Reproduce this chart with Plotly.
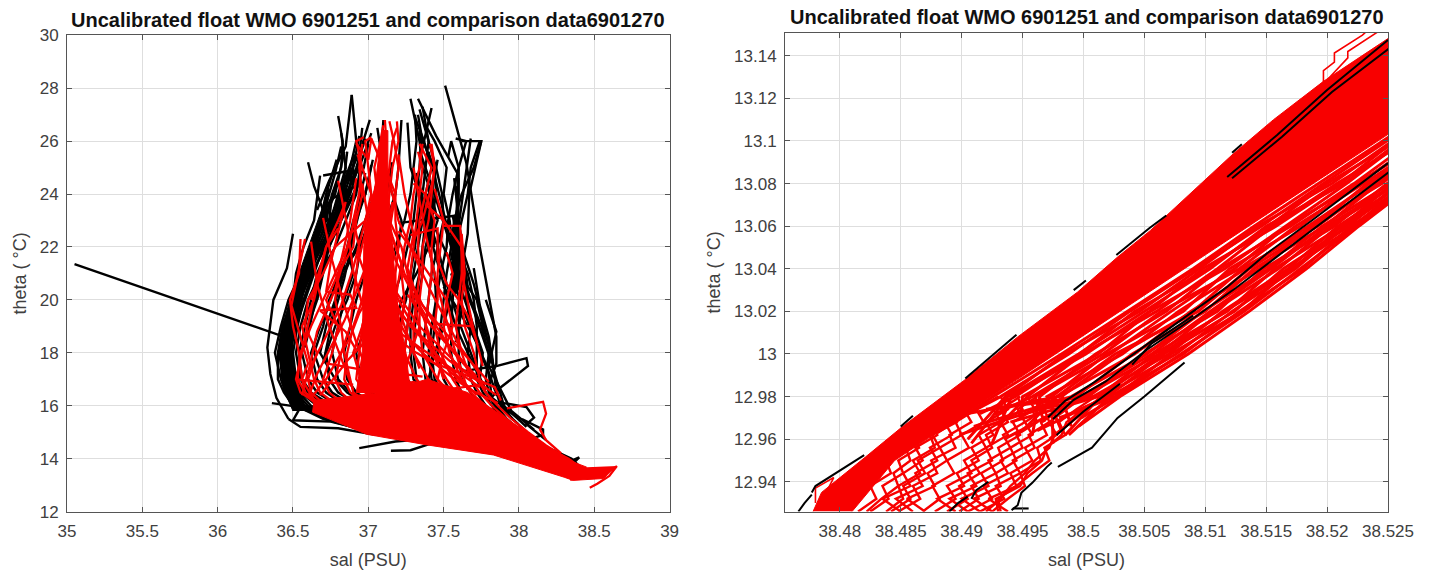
import plotly.graph_objects as go

TITLE = "Uncalibrated float WMO 6901251 and comparison data6901270"

# ---------- left panel: shared potential-temperature levels, one salinity list per profile ----------
levels_l = [13.5, 14, 14.5, 15, 15.5, 16, 16.5, 17, 18, 19, 20, 21, 22, 23, 24, 25, 26, 27, 28]

black_l = [
 [38.36,38.02,37.52,37.02,36.70,36.52,36.45,36.42,36.38,36.42,36.47,36.55,36.62,36.70,36.78,36.84],
 [38.38,38.05,37.60,37.10,36.72,36.55,36.47,36.44,36.42,36.45,36.50,36.56,36.65,36.74,36.82,36.88,36.92,36.89],
 [38.35,38.08,37.65,37.15,36.78,36.58,36.50,36.46,36.44,36.47,36.52,36.58,36.66,36.72,36.76,36.82,36.83,36.80],
 [38.40,38.03,37.58,37.20,36.80,36.60,36.52,36.47,36.45,36.46,36.51,36.60,36.68,36.78,36.86,36.92,36.98],
 [38.37,38.10,37.70,37.25,36.85,36.62,36.54,36.49,36.47,36.50,36.55,36.62,36.72,36.80,36.90,36.97,37.00],
 [38.42,38.12,37.75,37.30,36.90,36.66,36.55,36.50,36.48,36.52,36.58,36.64,36.70,36.75,36.80,36.85,36.82],
 [38.34,38.06,37.62,37.18,36.76,36.50,36.44,36.40,36.40,36.43,36.50,36.52,36.57,36.64,36.68],
 [38.39,38.14,37.78,37.35,37.00,36.72,36.60,36.55,36.52,36.55,36.60,36.68,36.78,36.85,36.92,36.95],
 [38.41,38.16,37.82,37.45,37.10,36.80,36.66,36.60,36.56,36.60,36.66,36.70,36.74,36.80,36.88,36.93,36.96],
 [38.36,38.18,37.85,37.50,37.15,36.85,36.72,36.66,36.62,36.68,36.75,36.80,36.88,36.92,36.98,37.03],
 [38.38,38.20,37.90,37.55,37.25,36.95,36.80,36.74,36.72,36.78,36.86,36.92,36.95,37.00,37.06,37.12],
 [38.43,38.22,37.92,37.60,37.30,37.05,36.92,36.86,36.84,36.88,36.92,36.98,37.05,37.12,37.18,37.20,37.22],
 [38.40,38.24,37.95,37.65,37.38,37.15,37.02,36.95,36.92,36.98,37.05,37.10,37.18,37.24,37.28,37.30,37.32,37.31],
 [38.35,38.19,37.88,37.62,37.42,37.25,37.12,37.05,37.05,37.10,37.16,37.22,37.26,37.30,37.32,37.34,37.35,37.34],
 [38.44,38.26,37.98,37.72,37.50,37.32,37.20,37.14,37.15,37.20,37.25,37.28,37.31,37.33,37.36,37.38,37.40,37.36],
 [38.37,38.21,37.96,37.75,37.56,37.40,37.30,37.25,37.24,37.26,37.28,37.30,37.33,37.36,37.38,37.42,37.37,37.31],
 [38.42,38.28,38.02,37.80,37.62,37.48,37.38,37.32,37.30,37.31,37.33,37.36,37.38,37.42,37.45,37.44,37.36,37.33],
 [38.39,38.25,38.00,37.82,37.66,37.54,37.44,37.38,37.36,37.38,37.40,37.42,37.46,37.50,37.49,37.45,37.40,37.34],
 [38.45,38.30,38.05,37.86,37.72,37.60,37.50,37.44,37.42,37.44,37.45,37.48,37.52,37.53,37.56,37.60,37.65,37.58],
 [38.36,38.27,38.03,37.88,37.75,37.64,37.55,37.50,37.46,37.48,37.50,37.52,37.55,37.57,37.62,37.70,37.75,37.62],
 [38.41,38.32,38.08,37.92,37.80,37.70,37.62,37.58,37.55,37.55,37.56,37.57,37.58,37.59,37.60,37.60,37.55,37.53],
 [38.38,38.29,38.06,37.94,37.82,37.74,37.68,37.62,37.60,37.60,37.61,37.62,37.62,37.60,37.58,37.57],
 [38.43,38.33,38.10,37.96,37.85,37.78,37.72,37.68,37.66,37.68,37.65,37.64,37.60,37.56],
 [38.40,38.31,38.12,37.98,37.88,37.82,37.76,37.72,37.72,37.72,37.70,37.66,37.58,37.62,37.66,37.68,37.74],
 [38.37,38.34,38.14,38.02,37.92,37.85,37.80,37.78,37.80,37.75,37.68,37.62,37.60,37.60,37.58],
 [38.44,38.35,38.16,38.05,37.96,37.88,37.85,37.84,37.82,37.76,37.72,37.60,37.54],
 [38.42,38.30,38.11,37.99,37.90,37.84,37.78,37.74,37.76,37.70,37.64,37.58,37.50,37.42,37.40],
 [38.39,38.28,38.04,37.85,37.70,37.58,37.48,37.42,37.40,37.42,37.45,37.44,37.40,37.38,37.42,37.46],
 [38.36,38.24,37.99,37.78,37.60,37.46,37.36,37.30,37.28,37.28,37.30,37.34,37.36,37.38,37.34,37.28,37.26],
 [38.41,38.22,37.94,37.70,37.48,37.28,37.16,37.08,37.02,37.04,37.08,37.12,37.20,37.22,37.16,37.10,37.06],
 [38.38,38.17,37.86,37.55,37.28,37.02,36.88,36.80,36.76,36.80,36.84,36.90,36.86,36.90,36.98,37.02],
 [38.35,38.13,37.80,37.42,37.05,36.76,36.62,36.56,36.54,36.58,36.62,36.66,36.74,36.82,36.94],
 [38.40,38.09,37.68,37.22,36.82,36.58,36.48,36.44,36.43,36.48,36.54,36.61,36.69,36.76,36.84,36.90,36.94],
 [38.37,38.04,37.56,37.08,36.74,36.54,36.46,36.43,36.41,36.44,36.49,36.56,36.63,36.68,36.72,36.79],
 [38.42,38.15,37.74,37.32,36.96,36.70,36.58,36.52,36.50,36.53,36.57,36.63,36.71,36.79,36.87,36.91],
 [38.39,38.11,37.72,37.28,36.92,36.68,36.56,36.48,36.46,36.49,36.53,36.59,36.67,36.75,36.85,36.94,37.02],
 [38.34,38.07,37.64,37.16,36.77,36.56,36.48,36.45,36.44,36.46,36.52,36.57,36.64,36.71,36.80],
 [38.43,38.21,37.91,37.58,37.28,37.00,36.86,36.78,36.68,36.72,36.78,36.84,36.92,36.98,37.04,37.08,37.10],
 [38.36,38.18,37.87,37.52,37.20,36.90,36.76,36.70,36.64,36.70,36.74,36.82,36.94,37.02,37.12,37.16],
 [38.41,38.26,38.01,37.77,37.57,37.42,37.32,37.26,37.20,37.18,37.22,37.32,37.40,37.46,37.42,37.36,37.34,37.28],
 [38.38,38.27,38.04,37.84,37.68,37.55,37.46,37.40,37.44,37.50,37.54,37.56,37.56,37.54,37.50,37.52,37.44,37.38],
]
# surface temperature of each profile above (replaces its last level)
black_top = [25.6,27.75,26.95,26.1,25.9,26.3,24.7,25.2,26.5,25.3,25.0,26.8,27.0,26.4,27.3,26.9,27.0,27.2,26.1,26.0,
             25.4,24.6,23.2,26.0,24.3,22.4,24.3,25.3,26.7,26.5,25.1,24.4,26.2,25.3,25.5,26.3,24.6,26.8,25.2,27.6,26.6]

# profile tops and other single profiles with their own temperature steps
black_x_sal = [
 [35.05, 36.42, 36.47],
 [37.51, 37.65, 37.74, 37.80, 37.85, 37.85, 37.80],
 [36.36, 36.55, 36.50, 36.75, 37.00],
 [37.62, 37.85, 38.05, 38.06, 37.88, 37.80],
 [36.94, 37.18, 37.40, 37.58],
 [37.15, 37.28, 37.46, 37.62],
 [38.10, 38.30, 38.40, 38.32, 38.20],
 [36.70, 36.90, 36.92, 36.75, 36.68],
 [37.20, 37.45, 37.60, 37.55],
 [36.89, 36.85, 36.74, 36.66],
 [37.33, 37.45, 37.59, 37.60, 37.66],
 [37.42, 37.35, 37.45, 37.55],
 [37.75, 37.67, 37.66, 37.60],
 [37.68, 37.64, 37.58, 37.56],
 [36.50, 36.46, 36.37, 36.33, 36.35, 36.39, 36.47],
 [37.78, 37.85, 37.80, 37.86, 37.95, 38.10],
 [36.60, 36.64, 36.70, 36.75, 36.80],
 [37.01, 36.95, 36.85, 36.80],
 [37.60, 37.58, 37.57, 37.60, 37.62, 37.58],
 [37.55, 37.62, 37.70, 37.78, 37.84, 37.92],
 [37.62, 37.70, 37.76, 37.82, 37.86, 37.94],
 [37.50, 37.60, 37.72, 37.80, 37.82, 38.00],
 [37.70, 37.74, 37.80, 37.83, 37.90, 38.05],
 [36.47, 36.55, 36.80, 37.05],
 [37.90, 38.05, 38.10, 38.05, 38.18],
 [38.02, 38.16, 38.16, 38.05, 38.22],
 [36.62, 36.66, 36.72, 36.78, 36.82],
 [36.60, 36.68, 36.74, 36.80, 36.84, 36.86],
 [36.66, 36.70, 36.76, 36.82, 36.90],
 [36.58, 36.65, 36.72, 36.76],
 [36.70, 36.76, 36.84, 36.90, 36.96],
 [36.74, 36.80, 36.86, 36.92, 36.98],
 [37.32, 37.38, 37.46, 37.52, 37.60, 37.72],
 [37.40, 37.46, 37.52, 37.60, 37.70, 37.82],
 [37.36, 37.42, 37.50, 37.58, 37.66, 37.78],
]
black_x_theta = [
 [21.35, 18.65, 18.20],
 [28.10, 25.20, 22.00, 20.20, 18.60, 17.60, 16.80],
 [16.10, 15.95, 15.45, 15.40, 15.05],
 [17.30, 17.50, 17.80, 17.50, 16.70, 16.20],
 [14.40, 14.65, 14.75, 14.60],
 [14.30, 14.32, 14.65, 14.50],
 [14.60, 13.80, 14.05, 13.60, 14.00],
 [24.70, 24.90, 24.30, 23.80, 23.00],
 [22.90, 23.10, 23.20, 21.50],
 [27.75, 25.80, 24.50, 23.40],
 [27.60, 26.20, 24.80, 23.00, 20.50],
 [27.25, 25.50, 23.80, 22.00],
 [26.00, 24.00, 22.50, 20.50],
 [26.10, 24.50, 22.00, 20.00],
 [22.50, 21.20, 20.00, 18.20, 17.20, 16.30, 15.50],
 [20.00, 18.80, 17.50, 16.80, 15.80, 15.10],
 [25.20, 24.30, 23.40, 22.80, 22.40],
 [26.80, 25.70, 24.40, 23.30],
 [24.60, 23.00, 22.00, 21.00, 19.60, 18.40],
 [21.00, 19.80, 18.60, 17.60, 16.60, 15.80],
 [22.00, 20.60, 19.20, 17.80, 16.40, 15.60],
 [20.50, 19.60, 18.40, 17.20, 16.30, 15.50],
 [21.20, 19.80, 18.60, 17.40, 16.00, 15.20],
 [15.50, 15.20, 15.15, 14.90],
 [16.10, 15.95, 15.55, 15.30, 14.70],
 [15.50, 15.10, 14.90, 14.70, 14.30],
 [21.00, 22.40, 23.60, 24.80, 25.80],
 [19.00, 20.80, 22.20, 23.40, 24.60, 25.60],
 [20.00, 21.40, 22.80, 24.20, 25.40],
 [18.20, 20.00, 22.00, 24.00],
 [17.60, 19.20, 20.80, 22.40, 23.80],
 [18.80, 20.40, 21.80, 23.20, 24.80],
 [24.80, 23.40, 22.00, 20.60, 19.20, 17.40],
 [25.60, 24.20, 22.80, 21.00, 19.60, 17.60],
 [23.60, 22.20, 20.60, 19.00, 18.00, 16.60],
]

# densest black parts, drawn as shapes
black_edge_sal   = [36.50, 36.44, 36.41, 36.44, 36.49, 36.54, 36.60, 36.66, 36.74, 36.72, 36.64, 36.58, 36.54, 36.50, 36.50, 36.55, 36.58]
black_edge_theta = [15.80, 16.60, 18.00, 19.20, 20.20, 21.00, 22.00, 23.00, 24.20, 23.30, 21.80, 20.50, 19.40, 18.60, 17.60, 16.80, 15.80]
black_col1_sal   = [37.56, 37.60, 37.61, 37.58, 37.55]
black_col1_theta = [22.80, 22.80, 20.50, 20.20, 20.50]
black_col2_sal   = [37.38, 37.43, 37.44, 37.39]
black_col2_theta = [24.00, 24.00, 22.00, 22.00]

red_l = [
 [38.36,38.10,37.70,37.30,36.95,36.66,36.58,36.56,36.54,36.50,36.48,36.54,36.55],
 [38.40,38.14,37.80,37.42,37.02,36.70,36.58,36.53,36.55,36.62,36.70,36.78,36.86,36.92],
 [38.38,38.12,37.75,37.35,37.00,36.72,36.62,36.60,36.66,36.58,36.60,36.70,36.78,36.98,37.05],
 [38.42,38.18,37.86,37.50,37.15,36.85,36.74,36.70,36.76,36.80,36.72,36.80,36.90,36.92,36.96,36.94,36.96],
 [38.37,38.16,37.84,37.52,37.20,36.92,36.82,36.78,36.82,36.88,36.90,36.92,36.94,36.90,36.94,36.95,36.93],
 [38.44,38.20,37.90,37.60,37.30,37.00,36.88,36.84,36.86,36.90,36.96,37.00,36.98,36.98,37.02,37.00,36.98,37.02],
 [38.40,38.22,37.95,37.68,37.40,37.12,36.98,36.92,36.94,36.96,37.00,37.02,37.04,37.06,37.06,37.04,37.08,37.10],
 [38.38,38.19,37.92,37.66,37.42,37.18,37.05,37.00,37.02,37.03,37.06,37.08,37.10,37.08,37.10,37.10,37.12,37.11],
 [38.43,38.25,38.00,37.76,37.52,37.30,37.16,37.10,37.08,37.10,37.12,37.12,37.14,37.14,37.12,37.14,37.16,37.19],
 [38.36,38.21,37.97,37.74,37.55,37.36,37.24,37.18,37.14,37.16,37.18,37.18,37.20,37.18,37.18,37.20,37.17,37.14],
 [38.41,38.27,38.04,37.82,37.62,37.44,37.32,37.26,37.20,37.22,37.24,37.22,37.24,37.28,37.30,37.34,37.36],
 [38.39,38.24,38.02,37.84,37.68,37.52,37.40,37.32,37.24,37.26,37.28,37.28,37.30,37.32,37.34,37.36,37.33],
 [38.44,38.29,38.08,37.90,37.74,37.60,37.48,37.40,37.30,37.30,37.32,37.34,37.33,37.34,37.38,37.42,37.34],
 [38.37,38.26,38.06,37.92,37.78,37.64,37.54,37.46,37.36,37.34,37.34,37.36,37.36,37.40,37.42,37.44,37.42],
 [38.42,38.31,38.12,37.98,37.84,37.70,37.58,37.52,37.42,37.38,37.40,37.42,37.42,37.44,37.38,37.30],
 [38.39,38.28,38.10,37.96,37.82,37.72,37.62,37.56,37.48,37.44,37.46,37.46,37.48,37.50,37.44],
 [38.45,38.33,38.16,38.04,37.90,37.78,37.68,37.62,37.54,37.50,37.52,37.56,37.52],
 [38.41,38.30,38.14,38.02,37.92,37.82,37.74,37.68,37.62,37.58,37.60,37.62,37.62,37.50,37.38],
 [38.38,38.32,38.18,38.06,37.95,37.86,37.78,37.74,37.70,37.64,37.62,37.64,37.62],
 [38.43,38.29,38.09,37.92,37.76,37.62,37.52,37.46,37.50,37.56,37.52,37.40,37.28,37.20],
 [38.36,38.23,38.00,37.80,37.60,37.42,37.30,37.22,37.28,37.34,37.30,37.26,37.22,37.14,37.16],
 [38.40,38.17,37.88,37.58,37.28,37.02,36.90,36.88,36.84,36.82,36.78,36.80,36.84,36.88,36.92],
 [38.37,38.15,37.82,37.46,37.10,36.80,36.68,36.64,36.60,36.56,36.64,36.68,36.72,36.80],
 [38.42,38.13,37.78,37.38,36.98,36.68,36.55,36.52,36.56,36.60,36.66],
 [38.39,38.20,37.94,37.62,37.36,37.10,37.00,36.95,36.90,36.96,37.00,37.06,37.04,36.98,37.04,37.08],
 [38.38,38.18,37.90,37.64,37.36,37.16,37.06,37.04,37.10,37.06,37.04,37.08,37.08,37.12,37.14,37.16,37.20,37.19],
 [38.41,38.24,37.98,37.72,37.48,37.24,37.12,37.08,37.12,37.16,37.14,37.12,37.10,37.04,37.02,36.96,36.92,36.97],
]
red_top = [22.3,23.3,23.9,25.9,25.5,26.15,26.6,26.8,26.5,26.75,25.9,25.6,25.9,25.9,24.4,24.2,21.8,23.6,22.5,
           22.6,23.7,24.6,22.7,20.6,25.0,26.75,26.15]

# single red profiles with their own temperature steps
red_x_sal = [
 [37.28, 37.46, 37.46, 37.52, 37.60, 37.66, 37.72],
 [37.92, 38.05, 38.16, 38.18, 38.14, 38.18, 38.28],
 [36.58, 36.49, 36.55, 36.60, 36.56, 36.62, 36.68],
 [36.62, 36.72, 36.80, 36.85, 36.75, 36.72],
 [36.72, 36.88, 36.92, 36.68, 36.85, 36.92],
 [36.92, 37.00, 37.02, 37.10],
 [37.41, 37.44, 37.42, 37.36, 37.28],
 [38.47, 38.52, 38.60, 38.65, 38.62, 38.48, 38.34],
 [37.12, 37.18, 37.30, 37.42, 37.58, 37.70, 37.78],
 [37.10, 37.22, 37.34, 37.48, 37.62, 37.78],
 [37.08, 37.16, 37.24, 37.36, 37.52, 37.66, 37.80],
 [37.16, 37.28, 37.38, 37.46, 37.54, 37.68],
 [37.06, 37.12, 37.20, 37.30, 37.40, 37.56, 37.72],
 [37.14, 37.20, 37.32, 37.40, 37.50, 37.60, 37.74],
 [37.30, 37.36, 37.44, 37.52, 37.60, 37.72],
 [37.22, 37.26, 37.34, 37.44, 37.55, 37.68, 37.86],
 [37.00, 36.92, 36.84, 36.74, 36.66, 36.60],
 [37.04, 36.94, 36.88, 36.80, 36.72, 36.62],
 [36.98, 36.90, 36.82, 36.70, 36.60, 36.56],
 [37.06, 37.00, 36.96, 36.86, 36.78, 36.68],
 [36.95, 36.88, 36.78, 36.66, 36.60],
 [37.02, 37.06, 37.02, 37.10, 37.06, 37.14, 37.20],
 [36.96, 37.00, 36.94, 37.02, 36.98, 37.08, 37.16],
 [37.10, 37.18, 37.14, 37.22, 37.18, 37.26, 37.34],
 [37.20, 37.24, 37.30, 37.26, 37.34, 37.42, 37.50],
 [37.30, 37.34, 37.38, 37.44, 37.50, 37.58, 37.66],
 [36.80, 36.86, 36.90, 36.98, 37.06, 37.14],
 [36.70, 36.76, 36.84, 36.92, 37.00, 37.10],
 [36.62, 36.66, 36.74, 36.82, 36.90],
 [37.22, 37.32, 37.44, 37.58, 37.72, 37.84, 37.88],
 [37.18, 37.30, 37.42, 37.54, 37.66, 37.76],
 [37.50, 37.61, 37.63, 37.70, 37.76],
 [37.43, 37.55, 37.70],
 [36.52, 36.72, 36.90],
 [37.00, 37.12, 37.30, 37.50, 37.75, 37.85],
 [36.72, 36.92, 37.10, 37.36],
 [37.26, 37.36, 37.48, 37.60, 37.72],
 [37.20, 37.34, 37.50, 37.64, 37.74],
]
red_x_theta = [
 [22.45, 22.70, 21.50, 20.60, 20.00, 19.40, 18.40],
 [15.90, 16.05, 16.15, 15.70, 15.10, 14.70, 14.20],
 [22.30, 19.80, 18.60, 17.60, 17.00, 16.40, 15.90],
 [20.00, 22.00, 23.00, 23.70, 21.40, 20.30],
 [20.30, 20.20, 19.70, 19.60, 18.80, 18.10],
 [25.90, 25.30, 26.10, 25.00],
 [25.90, 25.00, 24.30, 23.00, 22.00],
 [12.90, 13.05, 13.35, 13.72, 13.60, 13.40, 13.20],
 [23.00, 21.50, 20.20, 19.00, 18.00, 17.20, 16.50],
 [21.00, 20.00, 19.00, 18.20, 17.40, 16.80],
 [24.00, 22.40, 21.00, 19.80, 18.70, 17.80, 16.90],
 [20.00, 19.00, 18.40, 17.90, 17.30, 16.60],
 [22.50, 21.00, 20.00, 19.00, 18.20, 17.30, 16.40],
 [24.50, 23.00, 21.50, 20.50, 19.40, 18.30, 17.20],
 [20.50, 19.80, 19.10, 18.40, 17.80, 17.00],
 [19.00, 18.60, 18.10, 17.60, 17.10, 16.60, 16.10],
 [21.50, 20.30, 19.20, 18.10, 17.20, 16.30],
 [20.50, 19.50, 18.60, 17.80, 17.00, 16.30],
 [23.00, 21.20, 19.80, 18.40, 17.30, 16.40],
 [19.60, 19.00, 18.30, 17.70, 17.10, 16.40],
 [24.30, 22.30, 20.40, 18.80, 17.20],
 [24.00, 22.80, 21.60, 20.40, 19.20, 18.00, 16.80],
 [24.40, 23.00, 21.60, 20.30, 19.00, 17.70, 16.60],
 [25.20, 24.00, 22.60, 21.40, 20.00, 18.70, 17.40],
 [25.50, 24.00, 22.50, 21.20, 19.80, 18.40, 17.00],
 [25.00, 23.80, 22.50, 21.00, 19.60, 18.00, 16.60],
 [24.50, 22.80, 21.10, 19.40, 18.00, 16.80],
 [23.10, 21.50, 19.80, 18.40, 17.20, 16.20],
 [22.20, 20.60, 19.00, 17.80, 16.60],
 [18.40, 18.00, 17.60, 17.30, 17.00, 16.70, 16.20],
 [19.70, 18.90, 18.30, 17.70, 17.20, 16.80],
 [22.80, 22.80, 20.75, 18.85, 17.50],
 [19.10, 19.05, 19.00],
 [17.00, 16.90, 16.80],
 [16.90, 16.70, 16.90, 16.60, 16.80, 16.40],
 [17.60, 17.40, 17.30, 17.10],
 [20.20, 19.40, 18.60, 17.80, 17.10],
 [18.80, 18.20, 17.60, 17.10, 16.70],
]

# solid red masses where single lines can no longer be told apart
red_fan_sal   = [38.65, 38.56, 38.36, 38.30, 37.83, 37.39, 36.99, 36.63, 36.64, 37.08, 37.39, 37.66, 37.96, 38.16, 38.27, 38.45]
red_fan_theta = [13.72, 13.25, 13.18, 13.30, 14.14, 14.52, 14.92, 15.76, 16.20, 16.50, 17.00, 16.50, 15.35, 14.60, 14.07, 13.68]
red_col_sal   = [37.09, 37.13, 37.13, 37.16, 37.20, 37.25, 37.28, 36.92, 36.96, 36.97, 37.05, 37.08]
red_col_theta = [26.40, 26.40, 24.50, 22.00, 19.50, 18.00, 16.50, 16.50, 18.00, 22.00, 24.50, 26.00]

# ---------- right panel ----------
levels_r = [12.98, 13.00, 13.02, 13.04, 13.06, 13.08, 13.10, 13.13]
# cold end of each profile
red_r_start_sal = [38.4880,38.4892,38.4905,38.4915,38.4925,38.4930,38.4948,38.4958,38.4968,38.4975,38.4982,38.4990,
                   38.4886,38.4898,38.4910,38.4920,38.4935,38.4940,38.4952,38.4962,38.4972,38.4980,38.4988,38.4996,
                   38.4908,38.4928,38.4950,38.4965,38.4985,38.4998]
red_r_start_theta = [12.963,12.968,12.960,12.972,12.958,12.966,12.970,12.962,12.968,12.958,12.964,12.966,
                     12.970,12.962,12.966,12.974,12.960,12.968,12.972,12.964,12.960,12.970,12.962,12.966,
                     12.958,12.972,12.964,12.968,12.962,12.970]
red_r = [
 [38.4926,38.4982,38.5036,38.5090,38.5140,38.5193,38.5246,38.5325],
 [38.4932,38.4988,38.5038,38.5092,38.5146,38.5197,38.5249,38.5330],
 [38.4936,38.4985,38.5046,38.5095,38.5143,38.5204,38.5253,38.5328],
 [38.4944,38.4997,38.5042,38.5102,38.5152,38.5200,38.5258,38.5335],
 [38.4941,38.5002,38.5054,38.5098,38.5158,38.5211,38.5255,38.5332],
 [38.4954,38.4999,38.5060,38.5110,38.5155,38.5208,38.5266,38.5340],
 [38.4950,38.5012,38.5055,38.5116,38.5166,38.5216,38.5262,38.5345],
 [38.4964,38.5010,38.5068,38.5112,38.5170,38.5222,38.5271,38.5342],
 [38.4960,38.5022,38.5072,38.5124,38.5167,38.5226,38.5276,38.5350],
 [38.4974,38.5019,38.5082,38.5120,38.5178,38.5224,38.5281,38.5348],
 [38.4970,38.5032,38.5078,38.5133,38.5184,38.5236,38.5279,38.5355],
 [38.4982,38.5030,38.5090,38.5130,38.5190,38.5233,38.5290,38.5352],
 [38.4980,38.5042,38.5088,38.5144,38.5187,38.5245,38.5288,38.5362],
 [38.4994,38.5040,38.5100,38.5140,38.5198,38.5242,38.5296,38.5358],
 [38.4990,38.5052,38.5098,38.5152,38.5196,38.5252,38.5294,38.5368],
 [38.5004,38.5050,38.5110,38.5148,38.5206,38.5249,38.5302,38.5365],
 [38.5000,38.5062,38.5106,38.5160,38.5203,38.5258,38.5300,38.5372],
 [38.5012,38.5058,38.5118,38.5157,38.5212,38.5254,38.5308,38.5370],
 [38.5008,38.5070,38.5114,38.5168,38.5209,38.5262,38.5306,38.5376],
 [38.5020,38.5066,38.5124,38.5164,38.5218,38.5258,38.5312,38.5378],
 [38.5016,38.5076,38.5122,38.5174,38.5215,38.5266,38.5310,38.5382],
 [38.5026,38.5072,38.5130,38.5170,38.5222,38.5264,38.5316,38.5384],
 [38.5022,38.5082,38.5128,38.5180,38.5220,38.5270,38.5314,38.5386],
 [38.5030,38.5086,38.5136,38.5183,38.5226,38.5272,38.5320,38.5388],
 [38.4938,38.4996,38.5050,38.5104,38.5150,38.5214,38.5260,38.5336],
 [38.4958,38.5016,38.5064,38.5128,38.5174,38.5230,38.5284,38.5352],
 [38.4978,38.5026,38.5094,38.5136,38.5192,38.5240,38.5292,38.5360],
 [38.4998,38.5056,38.5104,38.5154,38.5200,38.5256,38.5304,38.5372],
 [38.5014,38.5064,38.5116,38.5172,38.5212,38.5262,38.5312,38.5380],
 [38.5028,38.5080,38.5132,38.5178,38.5224,38.5268,38.5318,38.5386],
]

# quantised zig-zag profiles near the cold end
zig_theta = [12.926, 12.932, 12.938, 12.944, 12.950, 12.956, 12.962, 12.968, 12.974, 12.980]
zig_sal = [
 [38.4815,38.4830,38.4825,38.4842,38.4838,38.4855,38.4850,38.4868,38.4878,38.4896],
 [38.4825,38.4840,38.4835,38.4852,38.4848,38.4865,38.4860,38.4878,38.4882,38.4900],
 [38.4850,38.4835,38.4858,38.4852,38.4868,38.4862,38.4880,38.4875,38.4892,38.4888],
 [38.4838,38.4852,38.4848,38.4866,38.4860,38.4878,38.4874,38.4890,38.4886,38.4904],
 [38.4848,38.4866,38.4860,38.4880,38.4875,38.4895,38.4890,38.4908,38.4902,38.4918],
 [38.4870,38.4855,38.4878,38.4872,38.4888,38.4882,38.4900,38.4895,38.4912,38.4908],
 [38.4878,38.4895,38.4888,38.4908,38.4902,38.4920,38.4914,38.4932,38.4926,38.4942],
 [38.4888,38.4905,38.4898,38.4915,38.4908,38.4925,38.4920,38.4938,38.4932,38.4948],
 [38.4905,38.4890,38.4912,38.4905,38.4925,38.4920,38.4938,38.4932,38.4950,38.4946],
 [38.4905,38.4925,38.4918,38.4938,38.4932,38.4950,38.4945,38.4962,38.4958,38.4974],
 [38.4925,38.4910,38.4932,38.4928,38.4945,38.4940,38.4958,38.4952,38.4968,38.4964],
 [38.4915,38.4935,38.4928,38.4948,38.4942,38.4960,38.4955,38.4972,38.4968,38.4984],
 [38.4938,38.4922,38.4945,38.4940,38.4958,38.4952,38.4970,38.4965,38.4980,38.4976],
 [38.4925,38.4938,38.4952,38.4948,38.4965,38.4962,38.4978,38.4972,38.4986,38.5000],
 [38.4932,38.4930,38.4945,38.4958,38.4972,38.4968,38.4985,38.4980,38.4994,38.5010],
 [38.4822,38.4834,38.4848,38.4844,38.4858,38.4854,38.4872,38.4866,38.4884,38.4896],
 [38.4842,38.4858,38.4852,38.4870,38.4864,38.4882,38.4876,38.4896,38.4890,38.4906],
 [38.4860,38.4846,38.4868,38.4862,38.4880,38.4874,38.4892,38.4886,38.4904,38.4898],
 [38.4868,38.4882,38.4876,38.4894,38.4888,38.4906,38.4900,38.4918,38.4912,38.4930],
 [38.4895,38.4880,38.4902,38.4896,38.4914,38.4908,38.4926,38.4920,38.4938,38.4932],
 [38.4898,38.4914,38.4908,38.4928,38.4922,38.4940,38.4934,38.4952,38.4946,38.4962],
 [38.4915,38.4900,38.4922,38.4916,38.4934,38.4930,38.4948,38.4942,38.4960,38.4954],
 [38.4930,38.4928,38.4948,38.4954,38.4966,38.4970,38.4982,38.4986,38.5000,38.5016],
 [38.4920,38.4932,38.4940,38.4952,38.4960,38.4972,38.4976,38.4990,38.4996,38.5020],
]
red_top_sal = [
 [38.5197, 38.5197, 38.5206, 38.5206, 38.5229, 38.5245],
 [38.5200, 38.5217, 38.5217, 38.5241, 38.5250],
 [38.4780, 38.4780, 38.4795, 38.4788],
]
red_top_theta = [
 [13.125, 13.133, 13.137, 13.1413, 13.1497, 13.158],
 [13.1286, 13.139, 13.142, 13.151, 13.155],
 [12.930, 12.937, 12.942, 12.934],
]

red_core_sal   = [38.4778, 38.4785, 38.4821, 38.4851, 38.4903, 38.4946, 38.4995, 38.5028, 38.5055, 38.5093, 38.5123, 38.5156, 38.5197, 38.5255, 38.5255, 38.5162, 38.5083, 38.5004, 38.4924, 38.4845, 38.4810]
red_core_theta = [12.926, 12.935, 12.9516, 12.9657, 12.988, 13.008, 13.029, 13.0455, 13.058, 13.078, 13.094, 13.110, 13.128, 13.150, 13.105, 13.070, 13.040, 13.010, 12.980, 12.950, 12.926]

black_front_sal = [
 [38.4971, 38.4985, 38.5009, 38.5045, 38.5083, 38.5118, 38.5151, 38.5188, 38.5250],
 [38.4975, 38.4992, 38.5018, 38.5052, 38.5092, 38.5125, 38.5160, 38.5198, 38.5252],
 [38.4941, 38.4946, 38.4949, 38.4958, 38.4970, 38.4974],
 [38.4979, 38.5007, 38.5028, 38.5050, 38.5083],
 [38.5118, 38.5159, 38.5200, 38.5250],
 [38.5122, 38.5163, 38.5204, 38.5252],
 [38.4766, 38.4771, 38.4777],
 [38.4777, 38.4780, 38.4820],
 [38.4850, 38.4860],
 [38.4903, 38.4925, 38.4945],
 [38.4992, 38.5002],
 [38.5027, 38.5054, 38.5068],
 [38.5122, 38.5130],
 [38.4890, 38.4897, 38.4905],
 [38.4908, 38.4912, 38.4922],
 [38.4942, 38.4955],
 [38.5040, 38.5056, 38.5090],
 [38.4978, 38.5000, 38.5030],
]
black_front_theta = [
 [12.9703, 12.978, 12.9868, 13.0017, 13.0173, 13.0315, 13.0474, 13.0629, 13.0896],
 [12.9695, 12.9785, 12.9870, 13.0020, 13.0175, 13.0310, 13.0462, 13.0625, 13.0860],
 [12.9267, 12.929, 12.9348, 12.9395, 12.947, 12.949],
 [12.947, 12.956, 12.970, 12.980, 12.996],
 [13.0831, 13.1028, 13.1239, 13.1474],
 [13.0825, 13.1020, 13.1230, 13.1440],
 [12.926, 12.930, 12.934],
 [12.935, 12.938, 12.9525],
 [12.966, 12.971],
 [12.9885, 12.9990, 13.0090],
 [13.0300, 13.0345],
 [13.0465, 13.0590, 13.0650],
 [13.0945, 13.0985],
 [12.926, 12.930, 12.933],
 [12.932, 12.936, 12.940],
 [12.9275, 12.9275],
 [12.9950, 13.0050, 13.0180],
 [12.9620, 12.9730, 12.9860],
]

# ---------- axes ----------
xticks_l = [35, 35.5, 36, 36.5, 37, 37.5, 38, 38.5, 39]
xlabels_l = ["35", "35.5", "36", "36.5", "37", "37.5", "38", "38.5", "39"]
yticks_l = [12, 14, 16, 18, 20, 22, 24, 26, 28, 30]
ylabels_l = ["12", "14", "16", "18", "20", "22", "24", "26", "28", "30"]
xticks_r = [38.48, 38.485, 38.49, 38.495, 38.5, 38.505, 38.51, 38.515, 38.52, 38.525]
xlabels_r = ["38.48", "38.485", "38.49", "38.495", "38.5", "38.505", "38.51", "38.515", "38.52", "38.525"]
yticks_r = [12.94, 12.96, 12.98, 13, 13.02, 13.04, 13.06, 13.08, 13.1, 13.12, 13.14]
ylabels_r = ["12.94", "12.96", "12.98", "13", "13.02", "13.04", "13.06", "13.08", "13.1", "13.12", "13.14"]

W, H = 1429, 571
BLACK, RED = "#000000", "#f80000"
TXT = "#404040"
FONT = "Liberation Sans"

fig = go.Figure()

def line(x, y, color, width, ax):
    fig.add_trace(go.Scatter(x=x, y=y, mode="lines", line=dict(color=color, width=width),
                             xaxis="x" + ax, yaxis="y" + ax, hoverinfo="skip", showlegend=False))

def shape(x, y, color, ax):
    fig.add_trace(go.Scatter(x=x, y=y, mode="lines", fill="toself", fillcolor=color, line=dict(color=color, width=1),
                             xaxis="x" + ax, yaxis="y" + ax, hoverinfo="skip", showlegend=False))

# left panel, black first and red on top
shape(black_edge_sal, black_edge_theta, BLACK, "")
shape(black_col1_sal, black_col1_theta, BLACK, "")
shape(black_col2_sal, black_col2_theta, BLACK, "")
for s, top in zip(black_l, black_top):
    line(s, levels_l[:len(s) - 1] + [top], BLACK, 2.4, "")
for x, y in zip(black_x_sal, black_x_theta):
    line(x, y, BLACK, 2.4, "")
shape(red_fan_sal, red_fan_theta, RED, "")
shape(red_col_sal, red_col_theta, RED, "")
for s, top in zip(red_l, red_top):
    line(s, levels_l[:len(s) - 1] + [top], RED, 2.3, "")
for x, y in zip(red_x_sal, red_x_theta):
    line(x, y, RED, 2.3, "")

# right panel
for s in zig_sal:
    line(s, zig_theta, RED, 2.4, "2")
shape(red_core_sal, red_core_theta, RED, "2")
for a, b, s in zip(red_r_start_sal, red_r_start_theta, red_r):
    line([a] + s, [b] + levels_r, RED, 3.0, "2")
for x, y in zip(red_top_sal, red_top_theta):
    line(x, y, RED, 1.6, "2")
for x, y in zip(black_front_sal, black_front_theta):
    line(x, y, BLACK, 2.0, "2")

common = dict(showline=True, linecolor="#555555", linewidth=1, mirror="ticks", ticks="inside", ticklen=5,
              tickcolor="#555555", tickwidth=1, showgrid=True, gridcolor="#dedede", gridwidth=1, zeroline=False,
              tickfont=dict(family=FONT, size=17, color=TXT), tickmode="array", automargin=False, ticklabelstandoff=4)

def title(text, standoff):
    return dict(text=text, font=dict(family=FONT, size=18, color=TXT), standoff=standoff)

def head(x, y):
    return dict(text=TITLE, x=x / W, y=1 - y / H, xref="paper", yref="paper", showarrow=False,
                font=dict(family=FONT, size=20, color="#111111", weight="bold"), xanchor="center", yanchor="middle")

fig.update_layout(
    width=W, height=H, margin=dict(l=0, r=0, t=0, b=0), paper_bgcolor="white", plot_bgcolor="white", showlegend=False,
    xaxis=dict(common, domain=[67 / W, 669.6 / W], range=[35, 39], tickvals=xticks_l, ticktext=xlabels_l,
               anchor="y", title=title("sal (PSU)", 13)),
    yaxis=dict(common, domain=[1 - 511.6 / H, 1 - 35.3 / H], range=[12, 30], tickvals=yticks_l, ticktext=ylabels_l,
               anchor="x", title=title("theta ( °C)", 8)),
    xaxis2=dict(common, domain=[785 / W, 1388 / W], range=[38.4755, 38.525], tickvals=xticks_r, ticktext=xlabels_r,
                anchor="y2", title=title("sal (PSU)", 13)),
    yaxis2=dict(common, domain=[1 - 511.6 / H, 1 - 33 / H], range=[12.926, 13.1507], tickvals=yticks_r, ticktext=ylabels_r,
                anchor="x2", title=title("theta ( °C)", 8)),
    annotations=[head(368, 20), head(1086.5, 17)],
)

fig.write_html("out.html", config=dict(displayModeBar=False), post_script="document.body.style.margin='0';")
